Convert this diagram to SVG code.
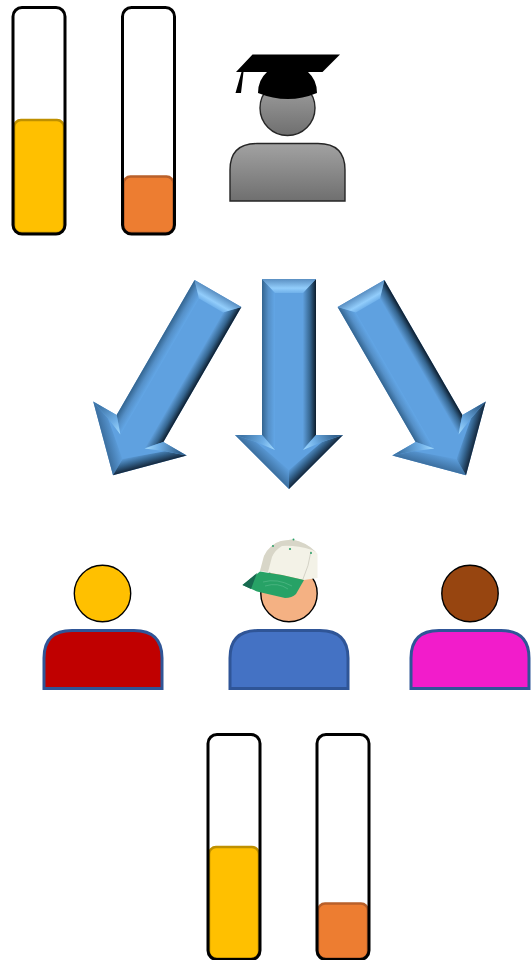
<svg xmlns="http://www.w3.org/2000/svg" width="531" height="960" viewBox="0 0 531 960">
<style>
.tube{fill:none;stroke:#000;stroke-width:3}
.yellow{fill:#ffc000;stroke:#bf9000;stroke-width:2.600}
.orange{fill:#ed7d31;stroke:#b9602a;stroke-width:2.600}
.head{stroke:#000;stroke-width:1.400}
.body{stroke:#2f5597;stroke-width:3}
.grey{fill:url(#grey);stroke:#262626;stroke-width:1.400}
</style>
<defs>
<linearGradient id="grey" x1="0" y1="0" x2="0" y2="1"><stop offset="0" stop-color="#a2a2a2"/><stop offset="1" stop-color="#6f6f6f"/></linearGradient>
<linearGradient id="fTop" gradientUnits="userSpaceOnUse" x1="0" y1="0" x2="0" y2="14"><stop offset="0" stop-color="#5a8fc2"/><stop offset=".65" stop-color="#92cdfb"/><stop offset="1" stop-color="#6fb0ea"/></linearGradient>
<linearGradient id="fLeft" gradientUnits="userSpaceOnUse" x1="-27" y1="0" x2="-14" y2="0"><stop offset="0" stop-color="#33648f"/><stop offset=".5" stop-color="#5590c8"/><stop offset="1" stop-color="#62a6e6"/></linearGradient>
<linearGradient id="fRight" gradientUnits="userSpaceOnUse" x1="14" y1="0" x2="27" y2="0"><stop offset="0" stop-color="#5f9fdc"/><stop offset=".55" stop-color="#35658f"/><stop offset="1" stop-color="#0c1c2c"/></linearGradient>
<linearGradient id="fWingL" gradientUnits="userSpaceOnUse" x1="-46" y1="156" x2="-14" y2="170"><stop offset="0" stop-color="#3f76a8"/><stop offset=".6" stop-color="#6eaee6"/><stop offset="1" stop-color="#a4dcff"/></linearGradient>
<linearGradient id="fWingR" gradientUnits="userSpaceOnUse" x1="46" y1="156" x2="14" y2="170"><stop offset="0" stop-color="#33628e"/><stop offset=".6" stop-color="#6eaee6"/><stop offset="1" stop-color="#a4dcff"/></linearGradient>
<linearGradient id="fLowL" gradientUnits="userSpaceOnUse" x1="-27" y1="183" x2="-17" y2="173"><stop offset="0" stop-color="#3c6f9f"/><stop offset="1" stop-color="#5fa1e0"/></linearGradient>
<linearGradient id="fLowR" gradientUnits="userSpaceOnUse" x1="27" y1="183" x2="17" y2="173"><stop offset="0" stop-color="#14263a"/><stop offset=".5" stop-color="#356590"/><stop offset="1" stop-color="#5fa1e0"/></linearGradient>
<g id="bevelArrow">
<polygon fill="#5fa1e0" points="-27,0 27,0 27,156 54,156 0,210 -54,156 -27,156"/>
<polygon fill="url(#fLeft)" points="-27,0 -14,13 -14,170 -27,156"/>
<polygon fill="url(#fRight)" points="27,0 14,13 14,170 27,156"/>
<polygon fill="url(#fTop)" points="-27,0 27,0 14,14 -14,14"/>
<polygon fill="url(#fLowL)" points="-54,156 -33,163 0,191 0,210"/>
<polygon fill="url(#fLowR)" points="54,156 33,163 0,191 0,210"/>
<polygon fill="url(#fWingL)" points="-54,156 -27,156 -14,171 -33,163"/>
<polygon fill="url(#fWingR)" points="54,156 27,156 14,171 33,163"/>
</g>
</defs>
<rect width="531" height="960" fill="#fff"/>

<g id="tube-top-yellow">
<rect class="yellow" x="14" y="120" width="50" height="113" rx="7"/>
<rect class="tube" x="13" y="7.500" width="52" height="226.500" rx="9"/>
</g>
<g id="tube-top-orange">
<rect class="orange" x="123.500" y="176.500" width="50" height="56.500" rx="7"/>
<rect class="tube" x="122.500" y="7.500" width="52" height="226.500" rx="9"/>
</g>
<g id="graduate">
<circle class="grey" cx="287.500" cy="108" r="27.500"/>
<path class="grey" d="M230 201V170Q230 143.500 257 143.500H318Q345 143.500 345 170V201Z"/>
<path fill="#000" d="M252.500 54.500H340L322.500 72H308Q317 80 317 93Q288 105 258 93Q258 80 267 72H236ZM241.500 72H243.500L241 93H235.500Z"/>
</g>

<g id="connectors">
<use href="#bevelArrow" transform="translate(218 293.500) rotate(30)"/>
<use href="#bevelArrow" transform="translate(289 279)"/>
<use href="#bevelArrow" transform="translate(361 293.500) rotate(-30)"/>
</g>

<g id="person-left">
<circle class="head" cx="102.500" cy="593.500" r="28.200" fill="#ffc000"/>
<path class="body" fill="#c00000" d="M44 688.500V658Q44 630.500 72 630.500H134Q162 630.500 162 658V688.500Z"/>
</g>
<g id="person-center">
<circle class="head" cx="289" cy="593.500" r="28.200" fill="#f4b183"/>
<path class="body" fill="#4472c4" d="M230 688.500V658Q230 630.500 258 630.500H320Q348 630.500 348 658V688.500Z"/>
<g id="cap">
<path fill="#f3f2e7" d="M260 571L264 556Q270 544 281 541L292 539.500Q306 542 316 552L317.500 554V578L304 580L282 575Z"/>
<path fill="#d8d6c8" d="M260 571L264 556Q270 544 281 541L292 539.500Q306 542 316 552L312 550Q296 545 282 546Q275 550 272 557L268 572Z"/>
<path fill="none" stroke="#bdbcae" stroke-width=".6" d="M311 551Q309 566 303 579"/>
<path fill="#27a266" d="M260 571.500L282 575L304 580L296 594Q292 598 285 598L257 591.500L242.500 585Z"/>
<path fill="#186a50" d="M257 573L242.500 585L251 589Z"/>
<path fill="none" stroke="#5cbd8f" stroke-width=".6" d="M263 582Q277 578 292 586M265 586Q278 582 288 589"/>
<circle cx="290" cy="549" r="1.100" fill="#2a9f68"/><circle cx="273" cy="546" r="1" fill="#2a9f68"/><circle cx="311" cy="553" r="1" fill="#2a9f68"/><circle cx="293.500" cy="539.500" r="1" fill="#2a9f68"/>
</g>
</g>
<g id="person-right">
<circle class="head" cx="470" cy="593.500" r="28.200" fill="#974510"/>
<path class="body" fill="#f21ccb" d="M411 688.500V658Q411 630.500 439 630.500H501Q529 630.500 529 658V688.500Z"/>
</g>

<g id="tube-bottom-yellow">
<rect class="yellow" x="209" y="847" width="50" height="111.500" rx="7"/>
<rect class="tube" x="208" y="734.500" width="52" height="225" rx="9"/>
</g>
<g id="tube-bottom-orange">
<rect class="orange" x="318" y="903.500" width="50" height="55" rx="7"/>
<rect class="tube" x="317" y="734.500" width="52" height="225" rx="9"/>
</g>
</svg>
